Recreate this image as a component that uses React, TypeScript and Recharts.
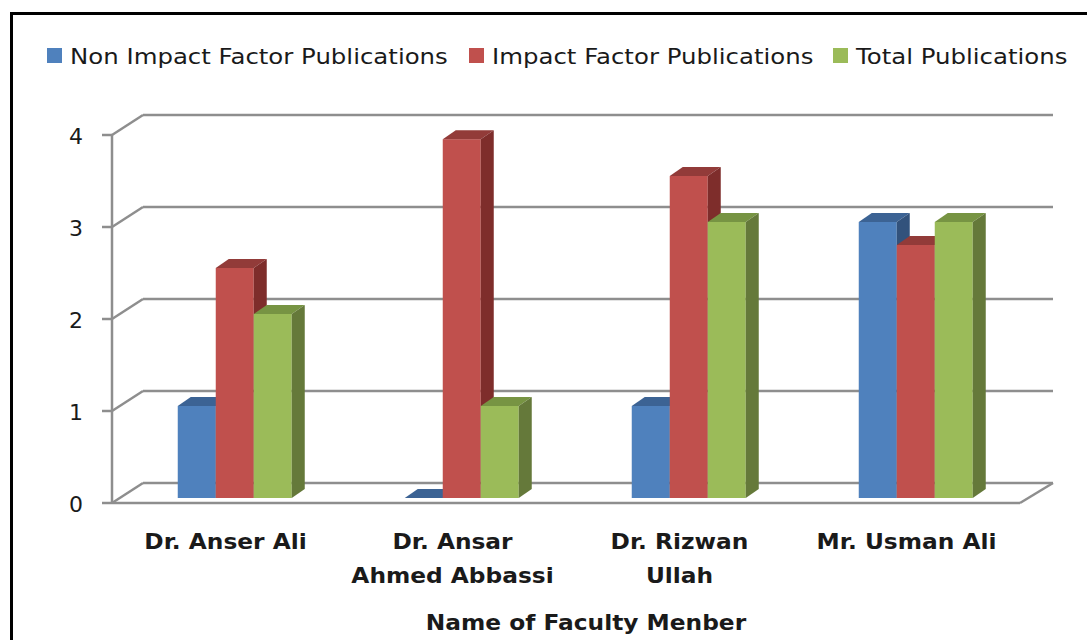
import React from 'react';
import { BarChart, Bar, XAxis, YAxis, CartesianGrid, Legend } from 'recharts';

// ---------- data ----------
const categories = ['Dr. Anser Ali', 'Dr. Ansar Ahmed Abbassi', 'Dr. Rizwan Ullah', 'Mr. Usman Ali'];
const categoryLines = [['Dr. Anser Ali'], ['Dr. Ansar', 'Ahmed Abbassi'], ['Dr. Rizwan', 'Ullah'], ['Mr. Usman Ali']];
const nonImpact = [1, 0, 1, 3];
const impact = [2.5, 3.9, 3.5, 2.75];
const total = [2, 1, 3, 3];
const yTicks = [0, 1, 2, 3, 4];
const seriesNames = ['Non Impact Factor Publications', 'Impact Factor Publications', 'Total Publications'];
const seriesKeys = ['nonImpact', 'impact', 'total'];
const xTitle = 'Name of Faculty Menber';

const data = categories.map((c, i) => ({
  name: c,
  nonImpact: nonImpact[i],
  impact: impact[i],
  total: total[i],
}));

// ---------- style ----------
const FONT = '"DejaVu Sans", "Liberation Sans", sans-serif';
const STRETCH = 1.11;
const GRID = '#8E8E8E';
const GRID_W = 2.5;
const COLORS = [
  { front: '#4F81BD', top: '#3C6394', side: '#32527C' },
  { front: '#C0504D', top: '#923B39', side: '#7E2D2B' },
  { front: '#9BBB59', top: '#779443', side: '#65793A' },
];
const BAR_DX = 9; // bar placed mid-depth
const BAR_DY = 5;
const BAR_DEPTH_X = 13;
const BAR_DEPTH_Y = 9;
const WALL_DX = 31;
const WALL_DX_RIGHT = 33;
const WALL_DY = 20;
const LEGEND_X = [47, 469, 833];

const StretchText = ({ x, y, anchor = 'middle', size, weight = 'normal', children }: any) => (
  <text
    transform={`translate(${x},${y}) scale(${STRETCH},1)`}
    textAnchor={anchor}
    fontFamily={FONT}
    fontSize={size}
    fontWeight={weight}
    fill="#1a1a1a"
  >
    {children}
  </text>
);

const makeShape = (c: { front: string; top: string; side: string }) => (props: any) => {
  const { x, y, width, height } = props;
  if (x == null || y == null) return <g />;
  const h = Math.max(height || 0, 0);
  const fx = x + BAR_DX;
  const fy = y - BAR_DY;
  const d = BAR_DEPTH_X;
  const e = BAR_DEPTH_Y;
  return (
    <g>
      <rect x={fx} y={fy} width={width} height={h} fill={c.front} />
      <polygon
        points={`${fx},${fy} ${fx + d},${fy - e} ${fx + width + d},${fy - e} ${fx + width},${fy}`}
        fill={c.top}
      />
      <polygon
        points={`${fx + width},${fy} ${fx + width + d},${fy - e} ${fx + width + d},${fy + h - e} ${fx + width},${fy + h}`}
        fill={c.side}
      />
    </g>
  );
};

const WallLine = (props: any) => {
  const { x1, x2, y1, horizontalPoints } = props;
  const pts: number[] = Array.isArray(horizontalPoints) ? horizontalPoints : [];
  const isBottom = pts.length ? y1 >= Math.max(...pts) - 0.5 : y1 > 500;
  const bx = x1 + WALL_DX;
  const by = y1 - WALL_DY;
  return (
    <g>
      <line x1={x1} y1={y1} x2={bx} y2={by} stroke={GRID} strokeWidth={GRID_W} />
      <line x1={bx} y1={by} x2={x2 + WALL_DX_RIGHT} y2={by} stroke={GRID} strokeWidth={GRID_W} />
      {isBottom && (
        <line x1={x2} y1={y1} x2={x2 + WALL_DX_RIGHT} y2={by} stroke={GRID} strokeWidth={GRID_W} />
      )}
    </g>
  );
};

const YTick = (props: any) => {
  const { x, y, payload } = props;
  return (
    <text x={x} y={y} dy={9} textAnchor="end" fontFamily={FONT} fontSize={22} fill="#1a1a1a">
      {payload.value}
    </text>
  );
};

const XTick = (props: any) => {
  const { x, y, payload, index } = props;
  const i = typeof index === 'number' ? index : categories.indexOf(payload.value);
  const lines = categoryLines[i] || [payload.value];
  return (
    <g>
      {lines.map((l: string, k: number) => (
        <StretchText key={k} x={x} y={y + 46 + k * 34} size={21} weight="bold">
          {l}
        </StretchText>
      ))}
    </g>
  );
};

const TitleContent = (props: any) => {
  const vb = props.viewBox || {};
  const cx = (vb.x || 0) + (vb.width || 0) / 2 + 20;
  const y = (vb.y || 0) + 127;
  return (
    <StretchText x={cx} y={y} size={21} weight="bold">
      {xTitle}
    </StretchText>
  );
};

const LegendContent = () => (
  <svg width={1087} height={99} style={{ display: 'block' }}>
    {seriesNames.map((n, i) => (
      <g key={n}>
        <rect x={LEGEND_X[i]} y={12} width={15} height={15} fill={COLORS[i].front} />
        <StretchText x={LEGEND_X[i] + 23} y={28} anchor="start" size={22}>
          {n}
        </StretchText>
      </g>
    ))}
  </svg>
);

export default function App() {
  return (
    <div
      style={{
        position: 'absolute',
        left: 0,
        top: 0,
        width: 1087,
        height: 640,
        overflow: 'hidden',
        background: '#fff',
      }}
    >
      <div
        style={{
          position: 'absolute',
          left: 10,
          top: 12,
          width: 1200,
          height: 800,
          border: '3px solid #000',
        }}
      />
      <div style={{ position: 'absolute', left: 0, top: 0 }}>
        <BarChart
          width={1087}
          height={640}
          data={data}
          margin={{ top: 36, right: 67, bottom: 17, left: 32 }}
          barCategoryGap="25%"
          barGap={0}
        >
          <Legend
            verticalAlign="top"
            align="left"
            content={LegendContent}
            wrapperStyle={{ left: 0, top: 36, width: 1087, height: 99 }}
          />
          <CartesianGrid vertical={false} horizontal={WallLine} />
          <XAxis
            dataKey="name"
            height={120}
            axisLine={{ stroke: GRID, strokeWidth: GRID_W }}
            tickLine={false}
            tickSize={0}
            tickMargin={0}
            tick={XTick}
            interval={0}
            label={{ value: xTitle, content: TitleContent }}
          />
          <YAxis
            width={80}
            domain={[0, 4]}
            ticks={yTicks}
            interval={0}
            axisLine={{ stroke: GRID, strokeWidth: GRID_W }}
            tickLine={{ stroke: GRID, strokeWidth: GRID_W }}
            tickSize={10}
            tickMargin={19}
            tick={YTick}
          />
          {seriesKeys.map((k, i) => (
            <Bar
              key={k}
              dataKey={k}
              name={seriesNames[i]}
              fill={COLORS[i].front}
              shape={makeShape(COLORS[i])}
              isAnimationActive={false}
            />
          ))}
        </BarChart>
      </div>
    </div>
  );
}
